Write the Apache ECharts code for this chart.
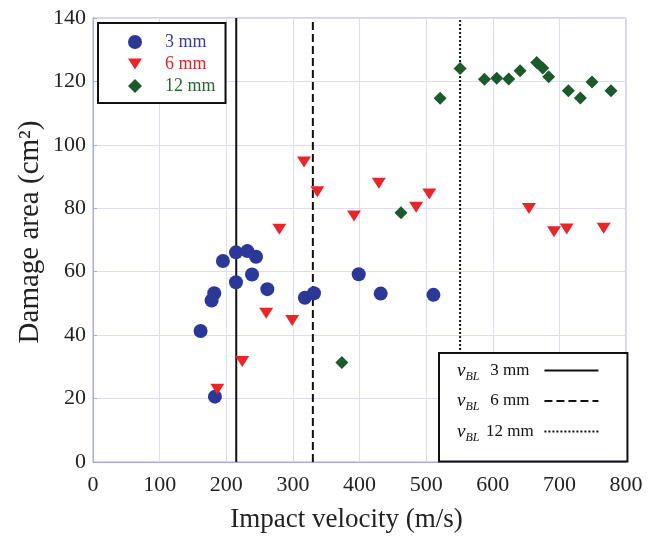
<!DOCTYPE html>
<html><head><meta charset="utf-8">
<script src="https://cdn.jsdelivr.net/npm/echarts@6/dist/echarts.min.js"></script>
<style>html,body{margin:0;padding:0;background:#fff}#c{width:660px;height:536px}</style>
</head><body><div id="c"></div>
<script>
const v3 = [161.5,178,182,183,195,214.6,214.6,231.7,238.7,244.7,261.7,318,331.7,398.8,431.8,511];
const d3 = [41.3,50.9,53.2,20.6,63.4,66.1,56.7,66.5,59.1,64.7,54.5,51.8,53.2,59.2,53.1,52.7];
const v6 = [186.6,224,260,279.7,299,316.7,336.7,391.8,429,485,504.8,654.4,692,711,766.5];
const d6 = [22.9,31.7,46.9,73.4,44.6,94.6,85.2,77.6,87.9,80.3,84.5,79.9,72.6,73.5,73.7];
const v12 = [373.5,462.3,521,551,587.5,606,624,641,666,675,684,713.5,731.5,749,777.5];
const d12 = [31.4,78.6,114.7,124.1,120.7,121,120.8,123.4,126,124.2,121.5,117.1,114.8,119.8,117.1];
const vBL = [215, 330, 551];
const blNames = ['vBL 3 mm','vBL 6 mm','vBL 12 mm'];
const blLabels = ['3 mm','6 mm','12 mm'];
const blStyles = ['solid','dashed','dotted'];
const yTicks = [0,20,40,60,80,100,120,140];
const xTicks = [0,100,200,300,400,500,600,700,800];

const pairs = (a,b) => a.map((x,i)=>[x,b[i]]);
const serif = '"Liberation Serif","DejaVu Serif",serif';
const C3='#2b3898', C6='#e8262a', C12='#1b5a2a';
const downTri = 'path://M0,0L14,0L7,11Z';

const series = [
  {name:'3 mm', type:'scatter', data:pairs(v3,d3), symbol:'circle', symbolSize:14, itemStyle:{color:C3, opacity:1}, z:5},
  {name:'6 mm', type:'scatter', data:pairs(v6,d6), symbol:downTri, symbolSize:[14,11], itemStyle:{color:C6, opacity:1}, z:5},
  {name:'12 mm', type:'scatter', data:pairs(v12,d12), symbol:'diamond', symbolSize:13, itemStyle:{color:C12, opacity:1}, z:5}
];
vBL.forEach((v,i)=>{
  series.push({name:blNames[i], type:'line', data:[[v,yTicks[0]],[v,yTicks[yTicks.length-1]]],
    symbol:'none', itemStyle:{color:'#111'}, lineStyle:{color:'#111', width:2, type:blStyles[i]}, z:3, silent:true});
});

const chart = echarts.init(document.getElementById('c'));
chart.setOption({
  animation:false,
  grid:{left:93, right:34, top:18, bottom:74, show:true, borderColor:'#a9a9e2', borderWidth:1,
        containLabel:false, outerBoundsMode:'none'},
  xAxis:{type:'value', min:xTicks[0], max:xTicks[xTicks.length-1], interval:100,
    name:'Impact velocity (m/s)', nameLocation:'middle', nameGap:44,
    nameTextStyle:{fontFamily:serif, fontSize:27, color:'#222', padding:[0,26,0,0]},
    axisLine:{lineStyle:{color:'#a9a9e2'}}, axisTick:{show:false},
    axisLabel:{fontFamily:serif, fontSize:22, color:'#222', margin:12},
    splitLine:{lineStyle:{color:'#dcdcf2', width:1}}},
  yAxis:{type:'value', min:yTicks[0], max:yTicks[yTicks.length-1], interval:20,
    name:'Damage area (cm²)', nameLocation:'middle', nameGap:48, nameMoveOverlap:false,
    nameTextStyle:{fontFamily:serif, fontSize:29, color:'#222', padding:[0,0,0,16]},
    axisLine:{show:true, lineStyle:{color:'#a9a9e2'}}, axisTick:{show:true, inside:true, length:4, lineStyle:{color:'#a9a9e2'}},
    axisLabel:{fontFamily:serif, fontSize:22, color:'#222', margin:7},
    splitLine:{lineStyle:{color:'#dcdcf2', width:1}}},
  legend:[
    {left:98, top:23, orient:'vertical', itemGap:4, itemWidth:14, itemHeight:14,
     padding:[10,10,8,30], borderColor:'#111', borderWidth:2, backgroundColor:'#fff',
     selectedMode:false,
     data:[
       {name:'3 mm', textStyle:{color:'#3a3aa6'}},
       {name:'6 mm', textStyle:{color:'#e02424'}},
       {name:'12 mm', textStyle:{color:'#236a34'}}],
     textStyle:{fontFamily:serif, fontSize:18, lineHeight:16, padding:[0,0,0,18]}},
    {left:439, top:353, orient:'vertical', align:'right', itemGap:9, itemWidth:54, itemHeight:14,
     padding:[8,28,18,18], borderColor:'#111', borderWidth:2, backgroundColor:'#fff',
     itemStyle:{opacity:0},
     selectedMode:false, data:blNames,
     formatter:(n)=>'{v|v}{s|BL}{t|'+blLabels[blNames.indexOf(n)]+'}',
     textStyle:{fontFamily:serif, fontSize:17, color:'#111',
       rich:{v:{fontFamily:serif, fontStyle:'italic', fontSize:19, color:'#111'},
             s:{fontFamily:serif, fontStyle:'italic', fontSize:12, color:'#111', padding:[12,0,0,0]},
             t:{fontFamily:serif, fontSize:17, color:'#111', padding:[0,0,0,1], width:59, align:'left'}}}}
  ],
  series
});
</script></body></html>
